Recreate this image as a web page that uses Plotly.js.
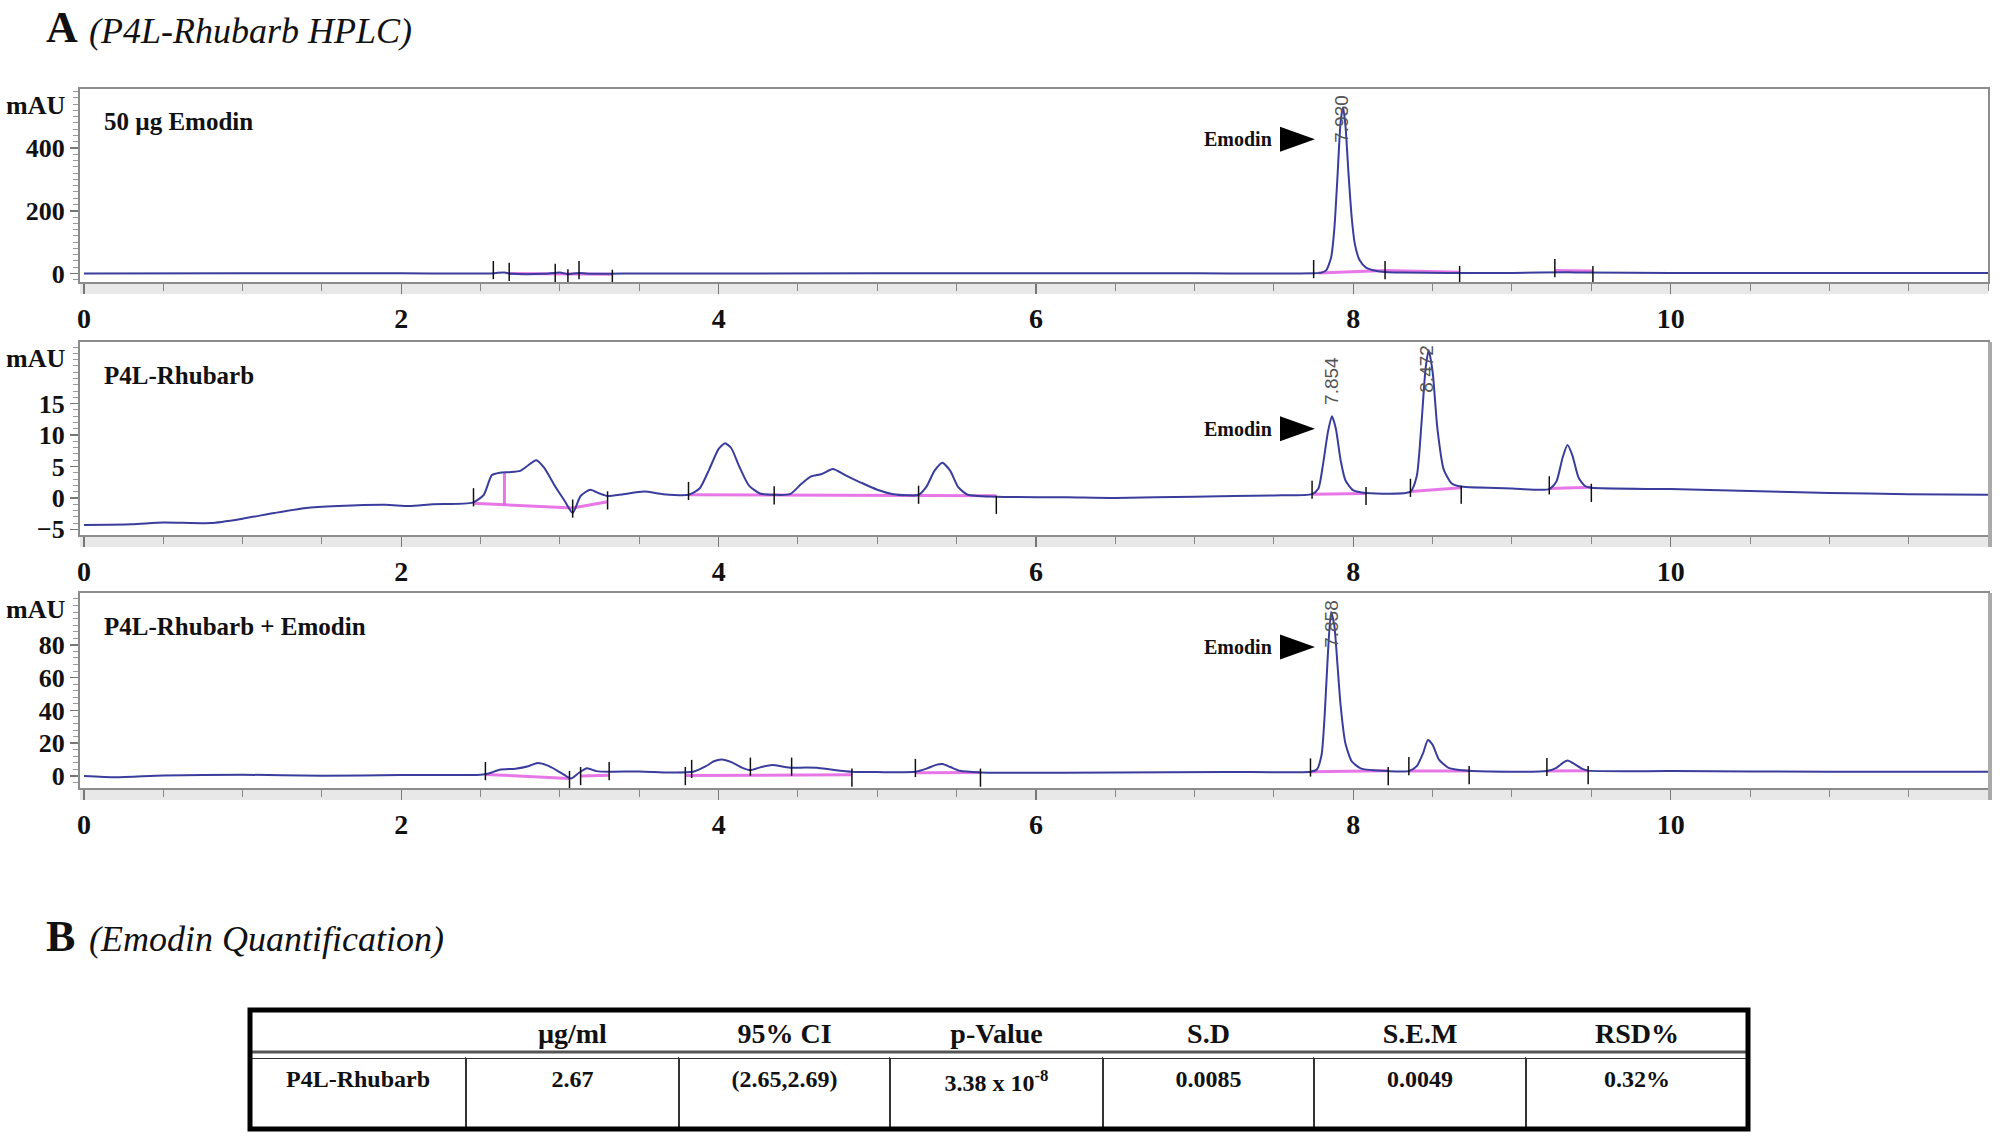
<!DOCTYPE html>
<html>
<head>
<meta charset="utf-8">
<script src="https://cdn.plot.ly/plotly-3.0.1.min.js"></script>
<style>
  body { margin: 0; background: #fff; }
  #chart { width: 2000px; height: 1141px; }
</style>
</head>
<body>
<div id="chart"></div>
<script>
// chromatogram traces: retention time (min) / absorbance (mAU)
var rt1  = [0, 1.0, 2.0, 2.55, 2.6, 2.65, 2.7, 2.9, 3.0, 3.05, 3.12, 3.2, 3.4, 5.0, 7.0, 7.75, 7.80, 7.83, 7.86, 7.88, 7.90, 7.92, 7.935, 7.95, 7.97, 7.99, 8.01, 8.04, 8.08, 8.14, 8.2, 8.3, 8.6, 9.0, 9.35, 9.45, 10, 12];
var mau1 = [0, 0.5, 0.5, 0, 2, 3, -1, -1, 3, -2, 2, -1, 0, 0.5, 0.5, 1, 3, 11, 51, 140, 307, 484, 530, 474, 316, 177, 93, 42, 19, 9, 5, 3, 2, 2, 4, 3, 2, 1.5];

var rt2  = [0, 0.3, 0.5, 0.8, 1.0, 1.2, 1.4, 1.6, 1.9, 2.05, 2.2, 2.45, 2.52, 2.57, 2.62, 2.68, 2.75, 2.80, 2.85, 2.90, 2.97, 3.03, 3.08, 3.13, 3.19, 3.25, 3.30, 3.40, 3.53, 3.65, 3.81, 3.88, 3.94, 4.0, 4.04, 4.08, 4.13, 4.19, 4.26, 4.35, 4.45, 4.52, 4.58, 4.65, 4.72, 4.80, 4.90, 5.00, 5.10, 5.26, 5.31, 5.36, 5.41, 5.46, 5.51, 5.57, 5.75, 6.2, 6.5, 7.0, 7.5, 7.74, 7.78, 7.81, 7.84, 7.865, 7.89, 7.92, 7.95, 8.0, 8.08, 8.36, 8.40, 8.43, 8.455, 8.475, 8.50, 8.53, 8.57, 8.62, 8.68, 9.0, 9.235, 9.28, 9.32, 9.35, 9.38, 9.42, 9.46, 9.50, 10.0, 10.5, 11.0, 11.5, 12];
var mau2 = [-4.3, -4.2, -3.9, -4.0, -3.3, -2.4, -1.6, -1.3, -1.1, -1.3, -1.0, -0.75, 0.5, 3.6, 4.0, 4.1, 4.3, 5.2, 6.0, 4.8, 1.8, -0.5, -2.4, 0.3, 1.3, 0.7, 0.3, 0.6, 1.0, 0.6, 0.5, 1.5, 4.5, 7.8, 8.7, 7.9, 5.0, 2.0, 0.7, 0.5, 0.6, 2.2, 3.4, 3.8, 4.6, 3.6, 2.4, 1.3, 0.6, 0.5, 1.8, 4.3, 5.6, 4.3, 1.7, 0.5, 0.2, 0.1, 0, 0.2, 0.4, 0.6, 1.5, 5.5, 10.5, 13.0, 11, 6, 2.8, 1.2, 0.8, 1.0, 3.5, 12, 20.5, 23.5, 20, 11, 4.5, 2.3, 1.8, 1.5, 1.4, 2.6, 6.5, 8.4, 6.8, 3.2, 1.9, 1.6, 1.4, 1.1, 0.8, 0.6, 0.5];

var rt3  = [0, 0.2, 0.5, 1.0, 1.5, 2.0, 2.5, 2.55, 2.62, 2.72, 2.80, 2.86, 2.92, 2.98, 3.03, 3.07, 3.12, 3.17, 3.23, 3.31, 3.5, 3.69, 3.84, 3.92, 3.97, 4.02, 4.08, 4.15, 4.20, 4.27, 4.34, 4.40, 4.46, 4.55, 4.62, 4.72, 4.84, 5.0, 5.24, 5.31, 5.37, 5.41, 5.46, 5.52, 5.65, 5.8, 6.5, 7.2, 7.73, 7.77, 7.80, 7.82, 7.84, 7.86, 7.88, 7.90, 7.92, 7.95, 7.99, 8.05, 8.22, 8.35, 8.40, 8.44, 8.47, 8.50, 8.54, 8.60, 8.73, 9.22, 9.28, 9.32, 9.35, 9.39, 9.44, 9.48, 10.0, 11.0, 12];
var mau3 = [0, -0.8, 0.3, 0.8, 0.2, 0.6, 0.8, 1.5, 3.8, 4.5, 6, 8.0, 6.5, 3.5, 0.5, -1.5, 2, 4.8, 3.0, 2.6, 2.8, 2.2, 2.6, 6, 9, 10.1, 8.5, 5, 3.6, 5.5, 6.7, 5.8, 5.0, 5.2, 5.0, 3.8, 2.6, 2.4, 2.6, 4.5, 6.8, 7.3, 5.5, 3.2, 2.2, 2.0, 2.2, 2.5, 2.6, 4, 13, 38, 75, 100, 92, 68, 43, 20, 9, 4.5, 3.0, 3.0, 6, 14, 22, 19, 10, 5, 3.2, 3.0, 5, 8, 9.4, 7.5, 4.5, 3.3, 3, 2.6, 2.6];

// integration baselines (null = break) and peak start/end marks
var baseX1 = [2.68, 3.33, null, 7.78, 8.20, 8.67, null, 9.27, 9.51];
var baseY1 = [0, -2, null, 2, 10, 4, null, 10, 8];
var markX1 = [2.58, 2.68, 2.97, 3.05, 3.12, 3.33, 7.75, 8.20, 8.67, 9.27, 9.51];
var markY1 = [11, 5, 2, -15, 11, -17, 14, 11, -5, 17, -5];

var baseX2 = [2.455, 3.08, 3.30, null, 2.65, 2.65, null, 3.81, 4.35, 5.26, 5.75, null, 7.74, 8.08, null, 8.36, 8.68, null, 9.235, 9.50];
var baseY2 = [-0.85, -1.6, -0.6, null, -1.1, 4.0, null, 0.5, 0.45, 0.4, 0.35, null, 0.6, 0.7, null, 1.0, 1.6, null, 1.5, 1.7];
var markX2 = [2.455, 3.08, 3.30, 3.81, 4.35, 5.26, 5.75, 7.74, 8.08, 8.36, 8.68, 9.235, 9.50];
var markY2 = [0.1, -1.7, -0.4, 1.1, 0.4, 0.5, -1.1, 1.3, 0.3, 1.6, 0.5, 2.0, 0.8];

var baseX3 = [2.53, 3.06, null, 3.13, 3.31, null, 3.79, 4.20, 4.46, 4.84, null, 5.24, 5.65, null, 7.73, 8.22, null, 8.35, 8.73, null, 9.22, 9.48];
var baseY3 = [1, -1.5, null, 0, 0.5, null, 0.3, 0.5, 0.5, 0.8, null, 2.0, 2.2, null, 2.6, 3.2, null, 3.0, 3.1, null, 3.0, 3.2];
var markX3 = [2.53, 3.06, 3.13, 3.31, 3.79, 3.83, 4.20, 4.46, 4.84, 5.24, 5.65, 7.73, 8.22, 8.35, 8.73, 9.22, 9.48];
var markY3 = [3, -2.4, 0, 3, 0, 4.3, 5.7, 5.7, -1, 4.9, -1, 5.2, 0, 6, 0.6, 5.5, 0.6];

// retention time labels: panel, x, y, text
var rtLabPanel = [1, 2, 2, 3];
var rtLabX = [7.92, 7.865, 8.46, 7.858];
var rtLabY = [492, 18.6, 20.6, 92.7];
var rtLabText = ['7.930', '7.854', '8.472', '7.858'];

// "Emodin" arrow per panel
var emodinY = [428, 11, 78.7];

var sampleNames = ['50 µg Emodin', 'P4L-Rhubarb', 'P4L-Rhubarb + Emodin'];

// table B
var tblHeader = [' ', 'µg/ml', '95% CI', 'p-Value', 'S.D', 'S.E.M', 'RSD%'];
var tblRow = ['P4L-Rhubarb', '2.67', '(2.65,2.69)', '3.38 x 10<sup>-8</sup>', '0.0085', '0.0049', '0.32%'];

var W = 2000, H = 1141;
function px(x) { return x / W; }
function py(y) { return 1 - y / H; }

var serif = 'Liberation Serif, Times New Roman, serif';
var curveColor = '#3a3d9c';
var pink = 'rgba(225,85,225,0.8)';

// pixel frames of the three chromatograms
var frameTop = [89, 342, 593];
var frameBot = [282, 535, 788];
var yRanges = [[-27, 588], [-5.9, 24.8], [-7.3, 111.6]];
var yTicks = [[0, 200, 400], [-5, 0, 5, 10, 15], [0, 20, 40, 60, 80]];
var yMinor = [20, 1, 4];

var data = [];
var sets = [[rt1, mau1, baseX1, baseY1, markX1, markY1],
            [rt2, mau2, baseX2, baseY2, markX2, markY2],
            [rt3, mau3, baseX3, baseY3, markX3, markY3]];

var layout = {
    width: W, height: H,
    margin: {l: 0, r: 0, t: 0, b: 0},
    paper_bgcolor: '#fff',
    plot_bgcolor: 'rgba(0,0,0,0)',
    showlegend: false,
    hovermode: false,
    annotations: [],
    shapes: []
};

sets.forEach(function (s, i) {
    var n = i === 0 ? '' : String(i + 1);
    var xa = 'x' + n, ya = 'y' + n;
    data.push({x: s[2], y: s[3], xaxis: xa, yaxis: ya, mode: 'lines', connectgaps: false,
               line: {color: pink, width: 3}});
    data.push({x: s[0], y: s[1], xaxis: xa, yaxis: ya, mode: 'lines',
               line: {color: curveColor, width: 2, shape: 'spline', smoothing: 0.6}});
    data.push({x: s[4], y: s[5], xaxis: xa, yaxis: ya, mode: 'markers',
               marker: {symbol: 'line-ns', size: 13, line: {width: 1.5, color: '#111'}}});

    layout['xaxis' + n] = {
        domain: [px(80), px(1988)], range: [-0.025, 12.0], anchor: ya,
        tickmode: 'array', tickvals: [0, 2, 4, 6, 8, 10],
        ticks: 'outside', ticklen: 10, tickwidth: 1.5, tickcolor: '#777',
        showline: true, linecolor: '#8c8c8c', linewidth: 2, mirror: true,
        showgrid: false, zeroline: false,
        tickfont: {family: serif, size: 28, weight: 'bold', color: '#111'},
        minor: {dtick: 0.5, tick0: 0, ticks: 'outside', ticklen: 7, tickwidth: 1, tickcolor: '#888'}
    };
    layout['yaxis' + n] = {
        domain: [py(frameBot[i]), py(frameTop[i])], range: yRanges[i], anchor: xa,
        tickmode: 'array', tickvals: yTicks[i],
        ticks: 'outside', ticklen: 8, tickwidth: 1.5, tickcolor: '#777',
        showline: true, linecolor: '#8c8c8c', linewidth: 2, mirror: true,
        showgrid: false, zeroline: false,
        tickfont: {family: serif, size: 26, weight: 'bold', color: '#111'},
        minor: {dtick: yMinor[i], tick0: 0, ticks: 'outside', ticklen: 5, tickwidth: 1, tickcolor: '#999'}
    };

    // grey strip under the time axis
    layout.shapes.push({type: 'rect', xref: 'paper', yref: 'paper', layer: 'below',
        x0: px(80), x1: px(1988), y0: py(frameBot[i] + 12), y1: py(frameBot[i]),
        fillcolor: '#e8e8e8', line: {width: 0}});
    // heavier right edge on the lower two traces
    if (i > 0) {
        layout.shapes.push({type: 'line', xref: 'paper', yref: 'paper', layer: 'above',
            x0: px(1990), x1: px(1990), y0: py(frameBot[i] + 12), y1: py(frameTop[i]),
            line: {color: '#aaa', width: 4}});
    }

    layout.annotations.push({xref: 'paper', yref: 'paper', x: px(67), y: py(frameTop[i] + 16),
        xanchor: 'right', yanchor: 'middle', showarrow: false,
        text: '<b>mAU</b>', font: {family: serif, size: 26, color: '#111'}});
    layout.annotations.push({xref: 'paper', yref: 'paper', x: px(102), y: py(frameTop[i] + 33),
        xanchor: 'left', yanchor: 'middle', showarrow: false,
        text: '<b>' + sampleNames[i] + '</b>', font: {family: serif, size: 25, color: '#111'}});

    // Emodin pointer
    layout.annotations.push({xref: xa, yref: ya, x: 7.50, y: emodinY[i],
        xanchor: 'right', yanchor: 'middle', showarrow: false,
        text: '<b>Emodin</b>', font: {family: serif, size: 20, color: '#111'}});
    layout.shapes.push({type: 'path', xref: xa, yref: ya, xsizemode: 'pixel', ysizemode: 'pixel',
        xanchor: 7.645, yanchor: emodinY[i], path: 'M-17,-12.5L18,0L-17,12.5Z',
        fillcolor: '#000', line: {width: 0}});
});

rtLabText.forEach(function (t, k) {
    var n = rtLabPanel[k] === 1 ? '' : String(rtLabPanel[k]);
    layout.annotations.push({xref: 'x' + n, yref: 'y' + n, x: rtLabX[k], y: rtLabY[k],
        textangle: -90, showarrow: false, text: t,
        font: {family: 'Liberation Sans, Arial, sans-serif', size: 19, color: '#555'}});
});

// headings
layout.annotations.push(
    {xref: 'paper', yref: 'paper', x: px(44), y: py(28), xanchor: 'left', yanchor: 'middle', showarrow: false,
     text: '<b>A</b>', font: {family: serif, size: 44, color: '#111'}},
    {xref: 'paper', yref: 'paper', x: px(87), y: py(31), xanchor: 'left', yanchor: 'middle', showarrow: false,
     text: '<i>(P4L-Rhubarb HPLC)</i>', font: {family: serif, size: 36, color: '#111'}},
    {xref: 'paper', yref: 'paper', x: px(44), y: py(936), xanchor: 'left', yanchor: 'middle', showarrow: false,
     text: '<b>B</b>', font: {family: serif, size: 44, color: '#111'}},
    {xref: 'paper', yref: 'paper', x: px(87), y: py(939), xanchor: 'left', yanchor: 'middle', showarrow: false,
     text: '<i>(Emodin Quantification)</i>', font: {family: serif, size: 36, color: '#111'}}
);

// table
data.push({
    type: 'table',
    domain: {x: [px(250), px(1748)], y: [py(1129), py(1010)]},
    columnwidth: [216, 213, 211, 213, 211, 212, 222],
    header: {
        values: tblHeader.map(function (h) { return '<b>' + h + '</b>'; }),
        align: 'center', height: 48,
        font: {family: serif, size: 28, color: '#111'},
        fill: {color: '#fff'}, line: {color: 'rgba(0,0,0,0)', width: 1}
    },
    cells: {
        values: tblRow.map(function (v) { return ['<b>' + v + '</b>']; }),
        align: 'center', height: 71,
        font: {family: serif, size: 24, color: '#111'},
        fill: {color: '#fff'}, line: {color: '#333', width: 2}
    }
});
layout.shapes.push(
    {type: 'line', xref: 'paper', yref: 'paper', layer: 'above',
     x0: px(250), x1: px(1748), y0: py(1052), y1: py(1052), line: {color: '#555', width: 3}},
    {type: 'rect', xref: 'paper', yref: 'paper', layer: 'above',
     x0: px(250), x1: px(1748), y0: py(1129), y1: py(1010), line: {color: '#000', width: 5}}
);

Plotly.newPlot('chart', data, layout, {displayModeBar: false, staticPlot: true});
</script>
</body>
</html>
